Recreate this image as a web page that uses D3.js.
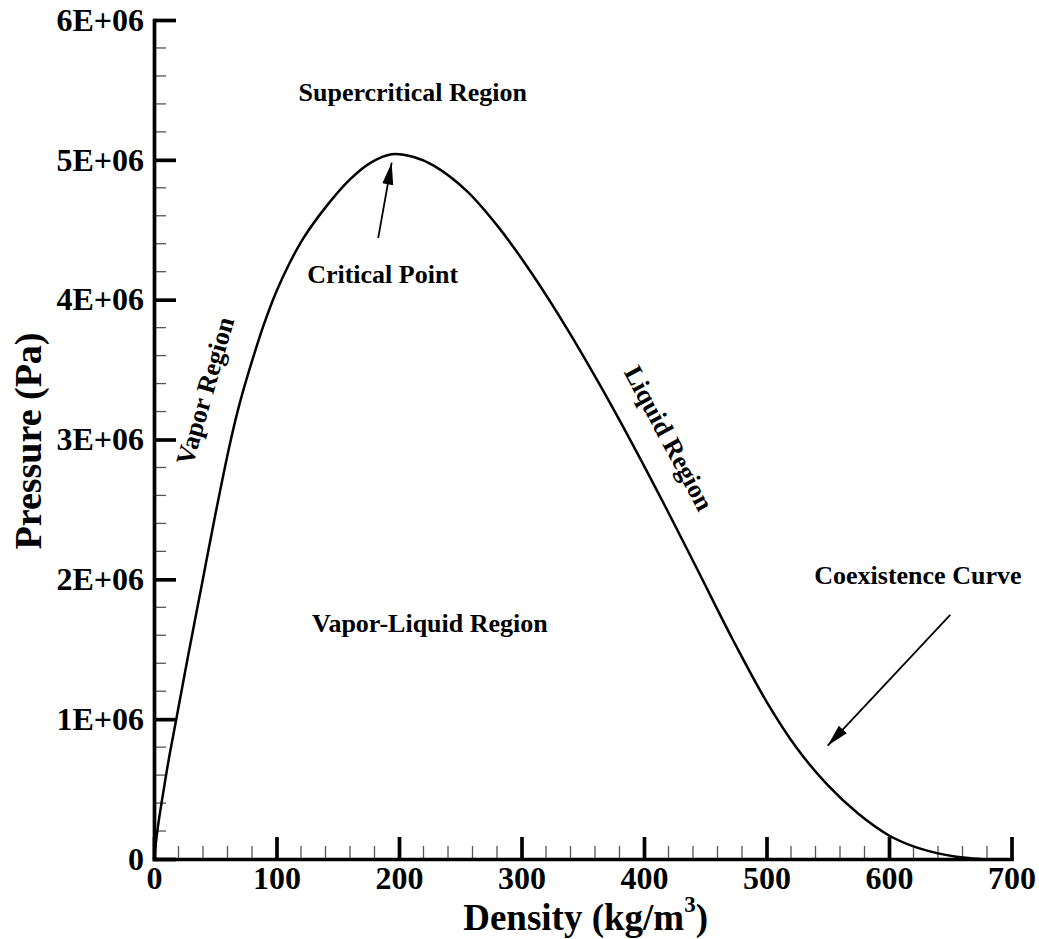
<!DOCTYPE html>
<html>
<head>
<meta charset="utf-8">
<script src="https://cdn.jsdelivr.net/npm/d3@7"></script>
<style>
  html, body { margin: 0; padding: 0; background: #fff; }
  svg { display: block; font-family: "Liberation Serif", "Times New Roman", serif; font-weight: bold; }
</style>
</head>
<body>
<svg id="chart" width="1039" height="939"></svg>
<script>
// Coexistence curve: density (kg/m^3) vs saturation pressure (Pa)
const density = [0, 2, 4, 8, 12, 18, 28, 39, 50, 62, 70, 80, 90, 100, 110, 122, 140, 160,
                 177, 194, 212, 228, 255, 282, 309, 337, 364, 391, 418, 445, 472, 500,
                 525, 550, 575, 600, 620, 640, 655, 675];
const pressure = [0, 0.15e6, 0.28e6, 0.50e6, 0.71e6, 0.99e6, 1.46e6, 1.96e6, 2.46e6, 2.97e6,
                  3.26e6, 3.56e6, 3.83e6, 4.06e6, 4.25e6, 4.44e6, 4.66e6, 4.86e6,
                  4.98e6, 5.04e6, 5.02e6, 4.96e6, 4.78e6, 4.51e6, 4.18e6, 3.795e6, 3.39e6,
                  2.96e6, 2.51e6, 2.045e6, 1.577e6, 1.126e6, 0.79e6, 0.528e6, 0.323e6,
                  0.168e6, 0.09e6, 0.04e6, 0.016e6, 0];

const xTicks = [0, 100, 200, 300, 400, 500, 600, 700];
const yTicks = [0, 1e6, 2e6, 3e6, 4e6, 5e6, 6e6];
const yTickLabels = ["0", "1E+06", "2E+06", "3E+06", "4E+06", "5E+06", "6E+06"];

// Annotations: [text, density, pressure]
const regionLabels = [
  ["Supercritical Region", 118, 5.42e6],
  ["Critical Point", 125, 4.12e6],
  ["Vapor-Liquid Region", 129, 1.62e6],
  ["Coexistence Curve", 539, 1.968e6]
];
// Rotated labels along the curve: [text, density, pressure, angle]
const branchLabels = [
  ["Vapor Region", 48.5, 3.33e6, -74],
  ["Liquid Region", 414, 2.98e6, 61.8]
];
// Arrows: [from density, from pressure, to density, to pressure]
const arrows = [
  [183, 4.44e6, 194, 4.98e6],
  [650, 1.746e6, 550, 0.811e6]
];

const svg = d3.select("#chart");
const x = d3.scaleLinear().domain([0, 700]).range([154, 1011.5]);
const y = d3.scaleLinear().domain([0, 6e6]).range([859, 20]);

// Minor ticks
const xMinor = d3.range(0, 701, 20).filter(v => v % 100 !== 0);
const yMinor = d3.range(0, 6e6 + 1, 0.2e6).filter(v => Math.round(v / 1e5) % 10 !== 0);

svg.append("g").selectAll("line").data(xMinor).join("line")
  .attr("x1", d => x(d)).attr("x2", d => x(d))
  .attr("y1", y(0)).attr("y2", y(0) - 13)
  .attr("stroke", "#555").attr("stroke-width", 1.3);

svg.append("g").selectAll("line").data(yMinor).join("line")
  .attr("y1", d => y(d)).attr("y2", d => y(d))
  .attr("x1", x(0)).attr("x2", x(0) + 12)
  .attr("stroke", "#555").attr("stroke-width", 1.3);

// Major axes
const xAxis = d3.axisBottom(x).tickValues(xTicks).tickFormat(d3.format("d"))
  .tickSize(-22).tickSizeOuter(0).tickPadding(0);
const yAxis = d3.axisLeft(y).tickValues(yTicks)
  .tickFormat((d, i) => yTickLabels[i]).tickSize(-22).tickSizeOuter(0).tickPadding(10);

const gx = svg.append("g").attr("transform", `translate(0,${y(0)})`).call(xAxis);
const gy = svg.append("g").attr("transform", `translate(${x(0)},0)`).call(yAxis);

[gx, gy].forEach(g => {
  g.select(".domain").attr("stroke", "#000").attr("stroke-width", 3.7).attr("stroke-linecap", "square");
  g.selectAll(".tick line").attr("stroke", "#000").attr("stroke-width", 3.7);
  g.selectAll(".tick text").attr("fill", "#000")
    .style("font-family", "'Liberation Serif', 'Times New Roman', serif")
    .style("font-weight", "bold").style("font-size", "32px");
});
gx.selectAll(".tick text").attr("y", 30).attr("dy", 0);
gy.selectAll(".tick text").attr("dy", "0.32em");

// Axis titles
const xt = svg.append("text")
  .attr("x", 708).attr("y", 930).attr("text-anchor", "end")
  .style("font-size", "37px");
xt.append("tspan").text("Density (kg/m");
xt.append("tspan").attr("dy", -18).style("font-size", "23px").text("3");
xt.append("tspan").attr("dy", 18).text(")");

svg.append("text")
  .attr("transform", "translate(41,441) rotate(-90)")
  .attr("text-anchor", "middle")
  .style("font-size", "38px")
  .text("Pressure (Pa)");

// Coexistence curve
const line = d3.line()
  .x((d, i) => x(density[i]))
  .y((d, i) => y(pressure[i]))
  .curve(d3.curveCatmullRom.alpha(0.5));

svg.append("path")
  .datum(density)
  .attr("d", line)
  .attr("fill", "none")
  .attr("stroke", "#000")
  .attr("stroke-width", 2.5);

// Labels
svg.append("g").selectAll("text").data(regionLabels).join("text")
  .attr("x", d => x(d[1])).attr("y", d => y(d[2]))
  .style("font-size", "26px")
  .text(d => d[0]);

svg.append("g").selectAll("text").data(branchLabels).join("text")
  .attr("transform", d => `translate(${x(d[1])},${y(d[2])}) rotate(${d[3]})`)
  .attr("text-anchor", "middle")
  .style("font-size", "26px")
  .text(d => d[0]);

// Arrows
svg.append("defs").append("marker")
  .attr("id", "head")
  .attr("markerUnits", "userSpaceOnUse")
  .attr("markerWidth", 24).attr("markerHeight", 12)
  .attr("refX", 22).attr("refY", 5.5)
  .attr("orient", "auto")
  .append("path")
  .attr("d", "M0,0 L22,5.5 L0,11 Z")
  .attr("fill", "#000");

svg.append("g").selectAll("line").data(arrows).join("line")
  .attr("x1", d => x(d[0])).attr("y1", d => y(d[1]))
  .attr("x2", d => x(d[2])).attr("y2", d => y(d[3]))
  .attr("stroke", "#000").attr("stroke-width", 1.8)
  .attr("marker-end", "url(#head)");
</script>
</body>
</html>
